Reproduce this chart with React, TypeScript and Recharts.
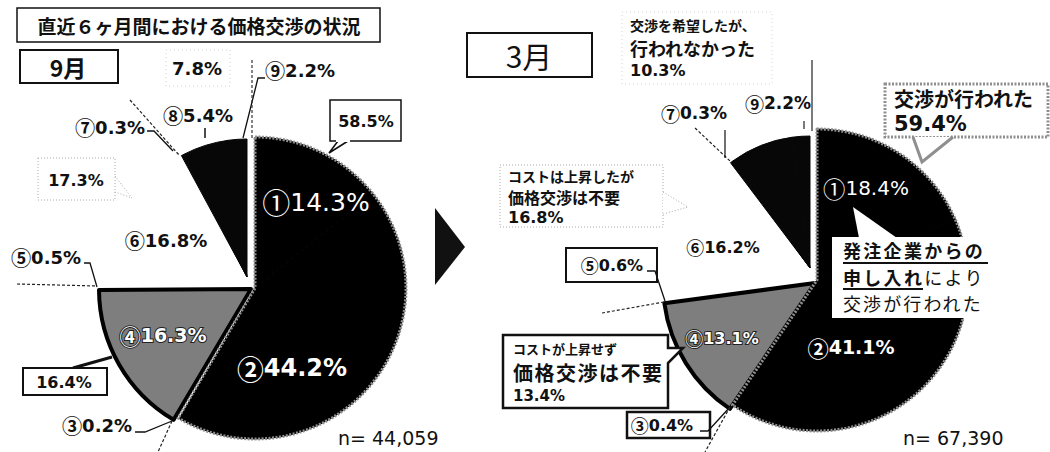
import React from 'react';
import { PieChart, Pie, Cell } from 'recharts';

// ---------- data ----------
const chartTitle = '直近６ヶ月間における価格交渉の状況';
const panelTitles = ['9月', '3月'];
const itemMarks = ['①', '②', '③', '④', '⑤', '⑥', '⑦', '⑧', '⑨'];
const itemGroup = [0, 0, 1, 1, 2, 2, 3, 3, 3];
const sepValues = [14.3, 44.2, 0.2, 16.3, 0.5, 16.8, 0.3, 5.4, 2.2];
const marValues = [18.4, 41.1, 0.4, 13.1, 0.6, 16.2, 0.3, 7.8, 2.2];
const groupLines = [
  ['交渉が行われた'],
  ['コストが上昇せず', '価格交渉は不要'],
  ['コストは上昇したが', '価格交渉は不要'],
  ['交渉を希望したが、', '行われなかった'],
];
const sepGroups = [58.5, 16.4, 17.3, 7.8];
const marGroups = [59.4, 13.4, 16.8, 10.3];
const sampleSizes = ['44,059', '67,390'];
const requestLines = ['発注企業からの', '申し入れ', 'により', '交渉が行われた'];

// ---------- styles ----------
const JP = '"Noto Sans CJK JP", sans-serif';
const NUM = '"DejaVu Sans", "Noto Sans CJK JP", sans-serif';
const groupFill = ['#000000', '#7e7e7e', '#ffffff', '#070707'];

type Geo = { cx: number; cy: number; r: number };
const LEFT: Record<string, Geo> = {
  A: { cx: 255, cy: 288, r: 151 },
  B: { cx: 251, cy: 289, r: 152 },
  C: { cx: 255, cy: 288, r: 151 },
  D: { cx: 247, cy: 277, r: 138 },
};
const RIGHT: Record<string, Geo> = {
  A: { cx: 817, cy: 280, r: 151 },
  B: { cx: 815, cy: 283, r: 152 },
  C: { cx: 817, cy: 280, r: 151 },
  D: { cx: 810, cy: 268, r: 132 },
};

const toItems = (vals: number[]) =>
  vals.map((v, i) => ({ name: itemMarks[i], value: v, group: itemGroup[i] }));
const toGroups = (vals: number[]) => vals.map((v, i) => ({ name: groupLines[i].join(''), value: v }));

const pct = (v: number) => `${v.toFixed(1)}%`;
const itemLabel = (vals: number[], i: number) => (
  <>
    <tspan fontFamily={JP} style={{ fontSize: '1.12em' }}>{itemMarks[i]}</tspan>
    <tspan>{pct(vals[i])}</tspan>
  </>
);

function itemPie(key: string, data: any[], geo: Geo, g: number) {
  return (
    <Pie
      key={key}
      data={data}
      dataKey="value"
      cx={geo.cx}
      cy={geo.cy}
      outerRadius={geo.r}
      innerRadius={0}
      startAngle={90}
      endAngle={-270}
      isAnimationActive={false}
      stroke="none"
    >
      {data.map((d, i) => (
        <Cell
          key={i}
          fill={d.group === g ? groupFill[g] : 'none'}
          stroke={d.group === g && g !== 2 ? groupFill[g] : 'none'}
          strokeWidth={1}
        />
      ))}
    </Pie>
  );
}

function outlinePie(key: string, data: any[], geo: Geo, g: number, stroke: string, width: number, dash?: string) {
  return (
    <Pie
      key={key}
      data={data}
      dataKey="value"
      cx={geo.cx}
      cy={geo.cy}
      outerRadius={geo.r}
      innerRadius={0}
      startAngle={90}
      endAngle={-270}
      isAnimationActive={false}
    >
      {data.map((_, i) => (
        <Cell
          key={i}
          fill="none"
          stroke={i === g ? stroke : 'none'}
          strokeWidth={i === g ? width : 0}
          strokeDasharray={i === g ? dash : undefined}
          strokeLinejoin="round"
        />
      ))}
    </Pie>
  );
}

const T = (p: any) => (
  <text
    x={p.x}
    y={p.y}
    fontSize={p.size}
    fontWeight={p.weight ?? 'bold'}
    fontFamily={p.font ?? NUM}
    textAnchor={p.anchor ?? 'middle'}
    dominantBaseline="central"
    fill={p.fill ?? '#111'}
    stroke={p.stroke}
    strokeWidth={p.sw}
    paintOrder="stroke"
    letterSpacing={p.ls}
  >
    {p.children}
  </text>
);

export default function App() {
  const sepItems = toItems(sepValues);
  const marItems = toItems(marValues);
  const sepG = toGroups(sepGroups);
  const marG = toGroups(marGroups);
  const border = '#8f8f8f';

  return (
    <div style={{ position: 'absolute', left: 0, top: 0, width: 1050, height: 452, background: '#fff' }}>
      <PieChart width={1050} height={452} margin={{ top: 0, right: 0, bottom: 0, left: 0 }}>
        {itemPie('sC', sepItems, LEFT.C, 2)}
        {itemPie('sB', sepItems, LEFT.B, 1)}
        {outlinePie('sBo', sepG, LEFT.B, 1, '#000', 4)}
        {itemPie('sA', sepItems, LEFT.A, 0)}
        {outlinePie('sAo', sepG, LEFT.A, 0, border, 3, '2 1.5')}
        {itemPie('sD', sepItems, LEFT.D, 3)}
        {itemPie('mC', marItems, RIGHT.C, 2)}
        {itemPie('mB', marItems, RIGHT.B, 1)}
        {outlinePie('mBo', marG, RIGHT.B, 1, '#000', 4)}
        {itemPie('mA', marItems, RIGHT.A, 0)}
        {outlinePie('mAo', marG, RIGHT.A, 0, border, 3, '2 1.5')}
        {itemPie('mD', marItems, RIGHT.D, 3)}
      </PieChart>

      <svg width={1050} height={452} style={{ position: 'absolute', left: 0, top: 0, pointerEvents: 'none' }}>
        {/* ---------------- LEFT PANEL ---------------- */}
        <rect x={17} y={8} width={363} height={34} fill="#fff" stroke="#111" strokeWidth={1.5} />
        <T x={199} y={25} size={19} font={JP}>{chartTitle}</T>

        <rect x={20} y={50} width={98} height={33} fill="#fff" stroke="#111" strokeWidth={2} />
        <T x={68} y={67} size={23} font={JP}>{panelTitles[0]}</T>

        <rect x={166} y={50} width={64} height={36} fill="none" stroke="#d0d0d0" strokeWidth={1} strokeDasharray="1 3" />
        <T x={197} y={68} size={18}>{pct(sepGroups[3])}</T>

        <T x={198} y={115} size={18}>{itemLabel(sepValues, 7)}</T>
        <line x1={205} y1={128} x2={205} y2={138} stroke="#111" strokeWidth={1.5} />

        <T x={110} y={127} size={18}>{itemLabel(sepValues, 6)}</T>
        <line x1={130} y1={100} x2={179} y2={155} stroke="#222" strokeWidth={1.2} strokeDasharray="3 2" />
        <polyline points="147,131 154,131 173,151" fill="none" stroke="#111" strokeWidth={1.3} />

        <T x={300} y={70} size={18}>{itemLabel(sepValues, 8)}</T>
        <polyline points="265,78 258,78 243,138" fill="none" stroke="#111" strokeWidth={1.3} />
        <line x1={252} y1={60} x2={252} y2={140} stroke="#333" strokeWidth={1.2} strokeDasharray="3 2" />

        <rect x={330} y={100} width={71} height={41} fill="#fff" stroke="#111" strokeWidth={1.5} />
        <path d="M338,141 L329,153 L348,141" fill="#fff" stroke="#111" strokeWidth={1.5} />
        <rect x={336} y={140} width={14} height={2} fill="#fff" />
        <T x={366} y={121} size={16}>{pct(sepGroups[0])}</T>

        <rect x={38} y={158} width={77} height={42} fill="none" stroke="#aaa" strokeWidth={1} strokeDasharray="1 2" />
        <path d="M115,176 L132,198 L115,192" fill="none" stroke="#aaa" strokeWidth={1} strokeDasharray="1 2" />
        <T x={76} y={180} size={16}>{pct(sepGroups[2])}</T>

        <T x={316} y={202} size={25} weight="normal" fill="#fff">{itemLabel(sepValues, 0)}</T>
        <T x={166} y={240} size={18}>{itemLabel(sepValues, 5)}</T>

        <T x={46} y={257} size={18}>{itemLabel(sepValues, 4)}</T>
        <polyline points="84,263 90,263 97,287" fill="none" stroke="#111" strokeWidth={1.3} />
        <line x1={17} y1={284} x2={96} y2={286} stroke="#222" strokeWidth={1.2} strokeDasharray="3 2" />

        <T x={163} y={335} size={19} fill="#fff" stroke="#222" sw={2}>{itemLabel(sepValues, 3)}</T>
        <T x={292} y={368} size={24} fill="#fff">{itemLabel(sepValues, 1)}</T>

        <line x1={73} y1={368} x2={112} y2={357} stroke="#111" strokeWidth={3} />
        <rect x={23} y={368} width={84} height={27} fill="#fff" stroke="#111" strokeWidth={2} />
        <T x={64} y={382} size={16}>{pct(sepGroups[1])}</T>

        <T x={97} y={425} size={18}>{itemLabel(sepValues, 2)}</T>
        <polyline points="135,432 145,432 172,421" fill="none" stroke="#111" strokeWidth={1.3} />
        <line x1={172} y1={421} x2={158} y2={452} stroke="#222" strokeWidth={1.2} strokeDasharray="3 2" />

        <T x={338} y={438} size={19} weight="normal" anchor="start">{`n= ${sampleSizes[0]}`}</T>

        {/* ---------------- RIGHT PANEL ---------------- */}
        <polygon points="435,208 465,247 435,285" fill="#111" />

        <rect x={467} y={33} width={125} height={44} fill="#fff" stroke="#111" strokeWidth={2} />
        <T x={529} y={55} size={30} weight="normal" font={JP}>{panelTitles[1]}</T>

        <rect x={622} y={12} width={150} height={72} fill="none" stroke="#d4d4d4" strokeWidth={1} strokeDasharray="1 3" />
        <T x={630} y={25} size={14} anchor="start" font={JP}>{groupLines[3][0]}</T>
        <T x={630} y={48} size={18} anchor="start" font={JP}>{groupLines[3][1]}</T>
        <T x={630} y={70} size={16} anchor="start">{pct(marGroups[3])}</T>

        <T x={694} y={113} size={17}>{itemLabel(marValues, 6)}</T>
        <line x1={695} y1={128} x2={730} y2={161} stroke="#222" strokeWidth={1.2} strokeDasharray="3 2" />
        <line x1={725} y1={130} x2={725} y2={158} stroke="#111" strokeWidth={1.2} />

        <T x={778} y={103} size={17}>{itemLabel(marValues, 8)}</T>
        <line x1={812} y1={60} x2={812} y2={131} stroke="#222" strokeWidth={1.2} />
        <line x1={804} y1={121} x2={804} y2={129} stroke="#222" strokeWidth={1.2} />

        <rect x={885} y={84} width={163} height={53} fill="#fff" stroke={border} strokeWidth={3} strokeDasharray="2 1.5" />
        <path d="M913,137 L922,162 L953,137" fill="#fff" stroke={border} strokeWidth={3} />
        <rect x={915} y={134} width={36} height={2} fill="#fff" />
        <T x={894} y={98} size={20} anchor="start" font={JP}>{groupLines[0][0]}</T>
        <T x={894} y={124} size={21} anchor="start">{pct(marGroups[0])}</T>

        <T x={866} y={188} size={20} weight="normal" fill="#fff">{itemLabel(marValues, 0)}</T>

        <rect x={500} y={165} width={163} height={62} fill="#fff" stroke="#aaa" strokeWidth={1} strokeDasharray="1 2" />
        <path d="M663,192 L688,207 L663,214" fill="#fff" stroke="#aaa" strokeWidth={1} strokeDasharray="1 2" />
        <T x={508} y={176} size={14} anchor="start" font={JP}>{groupLines[2][0]}</T>
        <T x={508} y={197} size={16} anchor="start" font={JP}>{groupLines[2][1]}</T>
        <T x={508} y={217} size={16} anchor="start">{pct(marGroups[2])}</T>

        <T x={723} y={247} size={16}>{itemLabel(marValues, 5)}</T>

        <rect x={566} y={248} width={91} height={34} fill="#fff" stroke="#111" strokeWidth={2} />
        <T x={612} y={265} size={16}>{itemLabel(marValues, 4)}</T>
        <polyline points="647,271 655,271 665,301" fill="none" stroke="#111" strokeWidth={1.3} />
        <line x1={602} y1={313} x2={664} y2={302} stroke="#222" strokeWidth={1.2} strokeDasharray="3 2" />

        <polygon points="853,207 859,238 897,238" fill="#fff" />
        <rect x={832} y={237} width={158} height={81} fill="#fff" />
        <T x={843} y={250} size={18} anchor="start" font={JP} ls={2.3}>{requestLines[0]}</T>
        <line x1={843} y1={263} x2={988} y2={263} stroke="#111" strokeWidth={2} />
        <text x={843} y={276.5} fontSize={18} fontFamily={JP} dominantBaseline="central" fill="#111" letterSpacing={2.3}>
          <tspan fontWeight="bold">{requestLines[1]}</tspan>
          <tspan fontWeight="normal">{requestLines[2]}</tspan>
        </text>
        <line x1={843} y1={289} x2={923} y2={289} stroke="#111" strokeWidth={2} />
        <T x={843} y={303} size={18} weight="normal" anchor="start" font={JP} ls={2.1}>{requestLines[3]}</T>

        <T x={722} y={338} size={16} fill="#fff" stroke="#222" sw={2}>{itemLabel(marValues, 3)}</T>
        <T x={851} y={347} size={19} fill="#fff">{itemLabel(marValues, 1)}</T>

        <path d="M503,335 H668 V348 L683,348 L668,363 V408 H503 Z" fill="#fff" stroke="#111" strokeWidth={2.5} strokeLinejoin="miter" />
        <T x={513} y={348} size={13} anchor="start" font={JP}>{groupLines[1][0]}</T>
        <T x={513} y={372} size={20} anchor="start" font={JP} ls={1.5}>{groupLines[1][1]}</T>
        <T x={513} y={396} size={15} anchor="start">{pct(marGroups[1])}</T>

        <rect x={627} y={412} width={83} height={26} fill="#fff" stroke="#111" strokeWidth={2.5} />
        <T x={662} y={425} size={16}>{itemLabel(marValues, 2)}</T>
        <polyline points="700,431 708,431 730,407" fill="none" stroke="#111" strokeWidth={1.3} />
        <line x1={730} y1={407} x2={705} y2={452} stroke="#222" strokeWidth={1.2} strokeDasharray="3 2" />

        <T x={903} y={438} size={19} weight="normal" anchor="start">{`n= ${sampleSizes[1]}`}</T>
      </svg>
    </div>
  );
}
